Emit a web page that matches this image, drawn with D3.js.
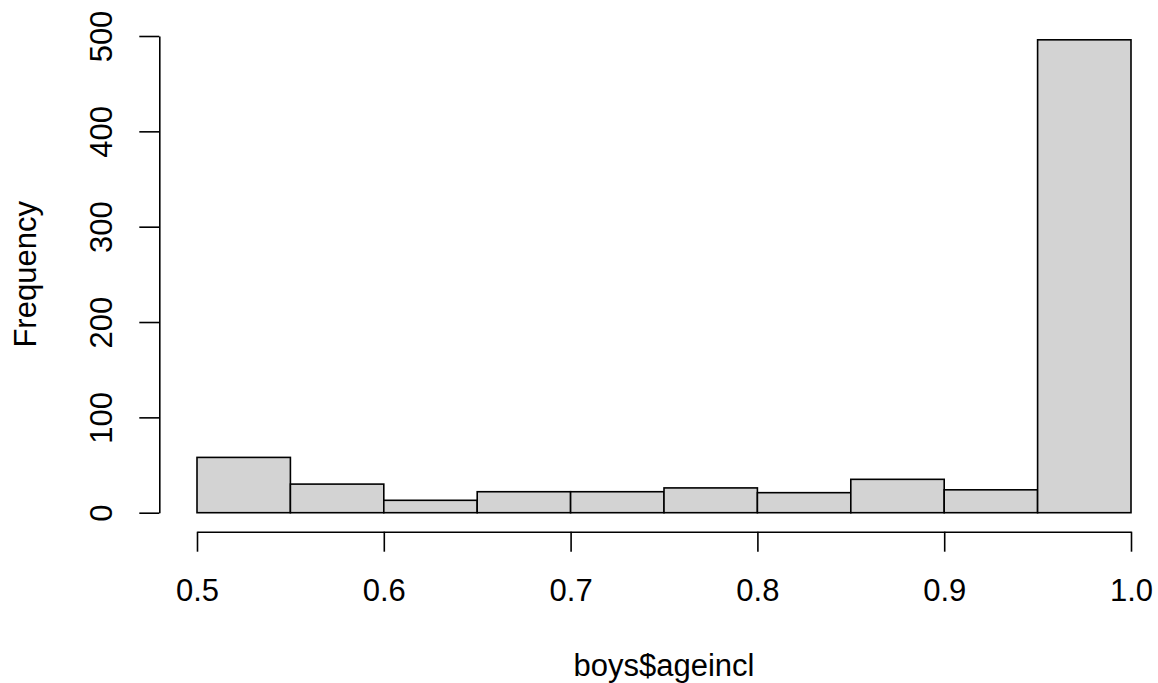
<!DOCTYPE html>
<html>
<head>
<meta charset="utf-8">
<script src="https://cdn.jsdelivr.net/npm/d3@7"></script>
<style>
  body { margin: 0; background: #fff; }
  svg text { font-family: "Liberation Sans", Arial, sans-serif; fill: #000; }
</style>
</head>
<body>
<svg id="chart"></svg>
<script>
// histogram of boys$ageincl, bins of width 0.05
const binStarts = [0.50, 0.55, 0.60, 0.65, 0.70, 0.75, 0.80, 0.85, 0.90, 0.95];
const binWidth = 0.05;
const counts = [58, 30, 13, 22, 22, 26, 21, 35, 24, 496];
const xTicks = [0.5, 0.6, 0.7, 0.8, 0.9, 1.0];
const yTicks = [0, 100, 200, 300, 400, 500];
const xTitle = "boys$ageincl";
const yTitle = "Frequency";

const W = 1158, H = 683;
const fontSize = 31;
const lw = 1.6;

const svg = d3.select("#chart").attr("width", W).attr("height", H);

const x = d3.scaleLinear().domain([0.5, 1.0]).range([197, 1131]);
const y = d3.scaleLinear().domain([0, 500]).range([512.7, 36]);

// bars
svg.append("g").selectAll("rect")
    .data(binStarts.map((b, i) => ({ x0: b, x1: b + binWidth, n: counts[i] })))
    .enter()
    .append("rect")
    .attr("x", d => x(d.x0))
    .attr("y", d => y(d.n))
    .attr("width", d => x(d.x1) - x(d.x0))
    .attr("height", d => y(0) - y(d.n))
    .attr("fill", "#d3d3d3")
    .attr("stroke", "#000")
    .attr("stroke-width", lw);

// x axis, drawn below the plot like base R
const xAxisG = svg.append("g")
    .attr("transform", "translate(0,531.7)")
    .call(d3.axisBottom(x).tickValues(xTicks).tickSize(20).tickSizeOuter(0).tickFormat(d3.format(".1f")));
xAxisG.select(".domain").attr("stroke-width", lw);
xAxisG.selectAll(".tick line").attr("stroke-width", lw);
xAxisG.selectAll(".tick text")
    .attr("y", 69.5)
    .attr("dy", 0)
    .style("font-size", fontSize + "px");

// y axis with rotated labels
const yAxisG = svg.append("g")
    .attr("transform", "translate(159.3,0)")
    .call(d3.axisLeft(y).tickValues(yTicks).tickSize(20).tickSizeOuter(0));
yAxisG.select(".domain").attr("stroke-width", lw);
yAxisG.selectAll(".tick line").attr("stroke-width", lw);
yAxisG.selectAll(".tick text")
    .attr("x", null)
    .attr("dy", null)
    .attr("transform", "translate(-47.5,0) rotate(-90)")
    .attr("text-anchor", "middle")
    .style("font-size", fontSize + "px");

// titles
svg.append("text")
    .attr("x", x(0.75))
    .attr("y", 676)
    .attr("text-anchor", "middle")
    .style("font-size", fontSize + "px")
    .text(xTitle);

svg.append("text")
    .attr("transform", `translate(35.5,${(y(0) + y(500)) / 2}) rotate(-90)`)
    .attr("text-anchor", "middle")
    .style("font-size", fontSize + "px")
    .text(yTitle);
</script>
</body>
</html>
